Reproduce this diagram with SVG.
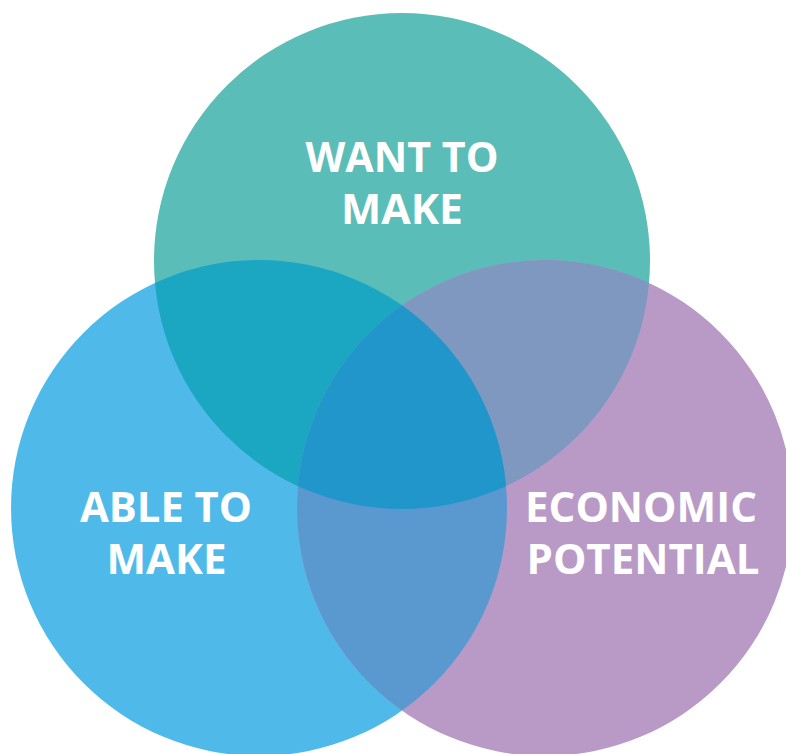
<svg xmlns="http://www.w3.org/2000/svg" width="786" height="754" viewBox="0 0 786 754">
  <style>
    .lbl { font-family: "Open Sans", "Liberation Sans", sans-serif; font-weight: 700; font-size: 41px; fill: #ffffff; text-anchor: middle; }
  </style>
  <defs>
    <circle id="cWant" cx="402" cy="261" r="248"/>
    <circle id="cAble" cx="259" cy="508" r="248"/>
    <circle id="cEcon" cx="545" cy="508" r="248"/>
    <clipPath id="clipWant"><use href="#cWant"/></clipPath>
    <clipPath id="clipAble"><use href="#cAble"/></clipPath>
    <clipPath id="clipEcon"><use href="#cEcon"/></clipPath>
  </defs>
  <rect width="786" height="754" fill="#ffffff"/>

  <!-- base circles -->
  <g id="want">
    <use href="#cWant" fill="#5BBDB7"/>
  </g>
  <g id="able">
    <use href="#cAble" fill="#4FBAEA"/>
  </g>
  <g id="economic">
    <use href="#cEcon" fill="#B99AC6"/>
  </g>

  <!-- pairwise overlaps -->
  <g id="overlaps">
    <use href="#cWant" fill="#1BA6C2" clip-path="url(#clipAble)"/>
    <use href="#cWant" fill="#7F98C0" clip-path="url(#clipEcon)"/>
    <use href="#cAble" fill="#5A99D0" clip-path="url(#clipEcon)"/>
    <g clip-path="url(#clipAble)">
      <use href="#cWant" fill="#2196CA" clip-path="url(#clipEcon)"/>
    </g>
  </g>

  <!-- labels -->
  <g id="labels">
    <text class="lbl" x="402" y="172" textLength="193" lengthAdjust="spacingAndGlyphs">WANT TO</text>
    <text class="lbl" x="402" y="224" textLength="122" lengthAdjust="spacingAndGlyphs">MAKE</text>
    <text class="lbl" x="166" y="522" textLength="172" lengthAdjust="spacingAndGlyphs">ABLE TO</text>
    <text class="lbl" x="166.5" y="574" textLength="120" lengthAdjust="spacingAndGlyphs">MAKE</text>
    <text class="lbl" x="641" y="522" textLength="232" lengthAdjust="spacingAndGlyphs">ECONOMIC</text>
    <text class="lbl" x="643" y="574" textLength="233" lengthAdjust="spacingAndGlyphs">POTENTIAL</text>
  </g>
</svg>
